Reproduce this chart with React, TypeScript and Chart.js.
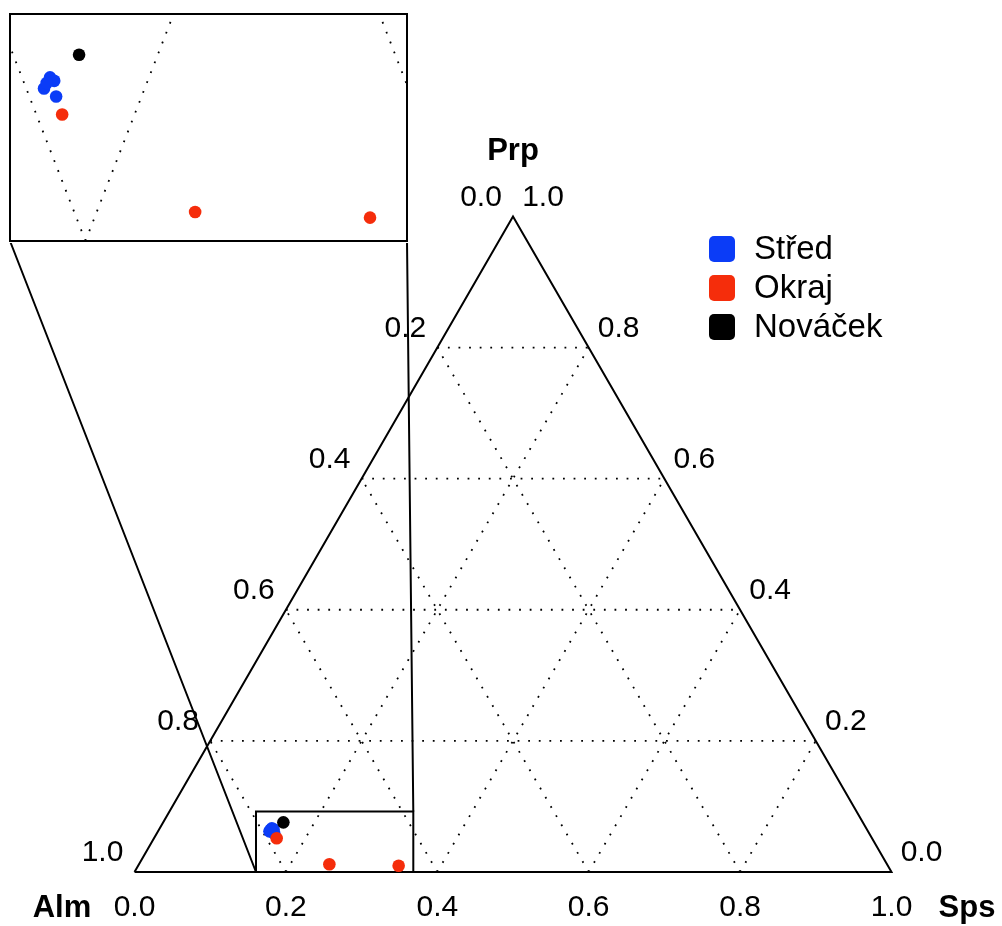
import React, { useEffect, useRef } from "react";
import { Chart, registerables } from "chart.js";

Chart.register(...registerables);

// ---- data (ternary fractions: Sps and Prp; Alm = 1 - Sps - Prp) ----
const SERIES_NAMES = ["Střed", "Okraj", "Nováček"];
const SERIES_COLORS = ["#0b3cf7", "#f52d0b", "#000000"];

const stredSps = [0.1482, 0.1511, 0.1473, 0.1553, 0.1476];
const stredPrp = [0.0665, 0.0651, 0.062, 0.0587, 0.0642];
const okrajSps = [0.1621, 0.2515, 0.3442];
const okrajPrp = [0.0514, 0.0118, 0.0095];
const novacekSps = [0.1588];
const novacekPrp = [0.0757];

const TICKS = [0, 0.2, 0.4, 0.6, 0.8, 1.0];
const GRID = [0.2, 0.4, 0.6, 0.8];
const AXIS_NAMES = { left: "Alm", right: "Sps", top: "Prp" };

// zoom window (cartesian ternary coordinates)
const ZOOM_X = [0.1605, 0.3683];
const ZOOM_Y = [0, 0.0799];

// ---- layout ----
const W = 1002;
const H = 926;
const TRI_LEFT = 134.5;
const TRI_WIDTH = 757;
const TRI_BASE = 872;
const INSET = { left: 8, top: 12, width: 401, height: 231, pad: 2 };
const FONT = "'Liberation Sans', Arial, Helvetica, sans-serif";

const SQ3 = Math.sqrt(3) / 2;
const toXY = (s: number, p: number) => ({ x: s + p / 2, y: p * SQ3 });

function seriesPoints(sps: number[], prp: number[]) {
  return sps.map((s, i) => toXY(s, prp[i]));
}

function lineDs(data: any[], dashed: boolean, order: number) {
  return {
    type: "scatter" as const,
    data,
    showLine: true,
    borderColor: "#000",
    borderWidth: dashed ? 1.8 : 2,
    borderDash: dashed ? [1.8, 8.8] : [],
    pointRadius: 0,
    pointHoverRadius: 0,
    tension: 0,
    order,
  };
}

function baseDatasets() {
  const ds: any[] = [];
  // triangle
  ds.push(lineDs([toXY(0, 0), toXY(1, 0), toXY(0, 1), toXY(0, 0)], false, 20));
  // grid lines
  GRID.forEach((t) => {
    ds.push(lineDs([toXY(0, t), toXY(1 - t, t)], true, 30)); // const Prp
    ds.push(lineDs([toXY(t, 0), toXY(t, 1 - t)], true, 30)); // const Sps
    ds.push(lineDs([toXY(t, 0), toXY(0, t)], true, 30)); // const Alm
  });
  const pts = [
    seriesPoints(stredSps, stredPrp),
    seriesPoints(okrajSps, okrajPrp),
    seriesPoints(novacekSps, novacekPrp),
  ];
  pts.forEach((data, i) => {
    ds.push({
      type: "scatter" as const,
      label: SERIES_NAMES[i],
      data,
      backgroundColor: SERIES_COLORS[i],
      borderWidth: 0,
      pointRadius: 6.3,
      pointHoverRadius: 6.3,
      order: 3 - i,
    });
  });
  return ds;
}

const mainPlugin = {
  id: "ternaryDecor",
  afterDraw(chart: any) {
    const { ctx } = chart;
    const xs = chart.scales.x;
    const ys = chart.scales.y;
    const px = (s: number, p: number) => {
      const c = toXY(s, p);
      return [xs.getPixelForValue(c.x), ys.getPixelForValue(c.y)];
    };
    ctx.save();
    ctx.fillStyle = "#000";
    ctx.textBaseline = "middle";
    ctx.textAlign = "center";
    ctx.font = `30px ${FONT}`;
    TICKS.forEach((t) => {
      const lab = t.toFixed(1);
      // bottom: Sps
      let [x, y] = px(t, 0);
      ctx.fillText(lab, x, y + 36);
      // left: Alm
      [x, y] = px(0, 1 - t);
      ctx.fillText(lab, x - 32, y - 19);
      // right: Prp
      [x, y] = px(1 - t, t);
      ctx.fillText(lab, x + 30, y - 19);
    });
    ctx.font = `bold 31px ${FONT}`;
    let [x, y] = px(0, 0);
    ctx.fillText(AXIS_NAMES.left, x - 72.5, y + 36);
    [x, y] = px(1, 0);
    ctx.fillText(AXIS_NAMES.right, x + 75.5, y + 36);
    [x, y] = px(0, 1);
    ctx.fillText(AXIS_NAMES.top, x, y - 65);

    // zoom connectors
    const zl = xs.getPixelForValue(ZOOM_X[0]);
    const zr = xs.getPixelForValue(ZOOM_X[1]);
    const zb = ys.getPixelForValue(ZOOM_Y[0]);
    const zt = ys.getPixelForValue(ZOOM_Y[1]);
    const il = INSET.left + INSET.pad;
    const ir = INSET.left + INSET.width - INSET.pad;
    const ib = INSET.top + INSET.height - INSET.pad;
    ctx.strokeStyle = "#000";
    ctx.lineWidth = 2;
    ctx.beginPath();
    ctx.moveTo(il, ib);
    ctx.lineTo(zl, zb);
    ctx.moveTo(ir, ib);
    ctx.lineTo(zr, zt);
    ctx.stroke();

    // legend
    ctx.font = `33px ${FONT}`;
    ctx.textAlign = "left";
    SERIES_NAMES.forEach((name, i) => {
      const cy = 249 + i * 39;
      ctx.fillStyle = SERIES_COLORS[i];
      ctx.beginPath();
      (ctx as any).roundRect(709, cy - 13, 26, 26, 5);
      ctx.fill();
      ctx.fillStyle = "#000";
      ctx.fillText(name, 754, cy + 1);
    });
    ctx.restore();
  },
};

const framePlugin = {
  id: "insetFrame",
  afterDraw(chart: any) {
    const { ctx, chartArea: a } = chart;
    ctx.save();
    ctx.strokeStyle = "#000";
    ctx.lineWidth = 2;
    ctx.strokeRect(a.left, a.top, a.right - a.left, a.bottom - a.top);
    ctx.restore();
  },
};

export default function App() {
  const mainRef = useRef<HTMLCanvasElement>(null);
  const insetRef = useRef<HTMLCanvasElement>(null);

  useEffect(() => {
    document.body.style.margin = "0";
    const mainDs = baseDatasets();
    mainDs.push(
      lineDs(
        [
          { x: ZOOM_X[0], y: ZOOM_Y[0] },
          { x: ZOOM_X[1], y: ZOOM_Y[0] },
          { x: ZOOM_X[1], y: ZOOM_Y[1] },
          { x: ZOOM_X[0], y: ZOOM_Y[1] },
          { x: ZOOM_X[0], y: ZOOM_Y[0] },
        ],
        false,
        10
      )
    );
    const main = new Chart(mainRef.current!, {
      type: "scatter",
      data: { datasets: mainDs },
      options: {
        animation: false,
        responsive: false,
        maintainAspectRatio: false,
        events: [],
        layout: { padding: 0, autoPadding: false },
        plugins: { legend: { display: false }, tooltip: { enabled: false } },
        scales: {
          x: {
            type: "linear",
            display: false,
            min: -TRI_LEFT / TRI_WIDTH,
            max: (W - TRI_LEFT) / TRI_WIDTH,
          },
          y: {
            type: "linear",
            display: false,
            min: -(H - TRI_BASE) / TRI_WIDTH,
            max: TRI_BASE / TRI_WIDTH,
          },
        },
      },
      plugins: [mainPlugin],
    });

    const insetDs = baseDatasets().map((d) => ({ ...d, clip: 0 }));
    const inset = new Chart(insetRef.current!, {
      type: "scatter",
      data: { datasets: insetDs },
      options: {
        animation: false,
        responsive: false,
        maintainAspectRatio: false,
        events: [],
        layout: { padding: INSET.pad, autoPadding: false },
        plugins: { legend: { display: false }, tooltip: { enabled: false } },
        scales: {
          x: { type: "linear", display: false, min: ZOOM_X[0], max: ZOOM_X[1] },
          y: { type: "linear", display: false, min: ZOOM_Y[0], max: ZOOM_Y[1] },
        },
      },
      plugins: [framePlugin],
    });

    return () => {
      main.destroy();
      inset.destroy();
    };
  }, []);

  return (
    <div style={{ position: "relative", width: W, height: H, overflow: "hidden", background: "#fff" }}>
      <canvas
        ref={mainRef}
        width={W}
        height={H}
        style={{ position: "absolute", left: 0, top: 0, width: W, height: H }}
      />
      <canvas
        ref={insetRef}
        width={INSET.width}
        height={INSET.height}
        style={{
          position: "absolute",
          left: INSET.left,
          top: INSET.top,
          width: INSET.width,
          height: INSET.height,
          background: "#fff",
        }}
      />
    </div>
  );
}
